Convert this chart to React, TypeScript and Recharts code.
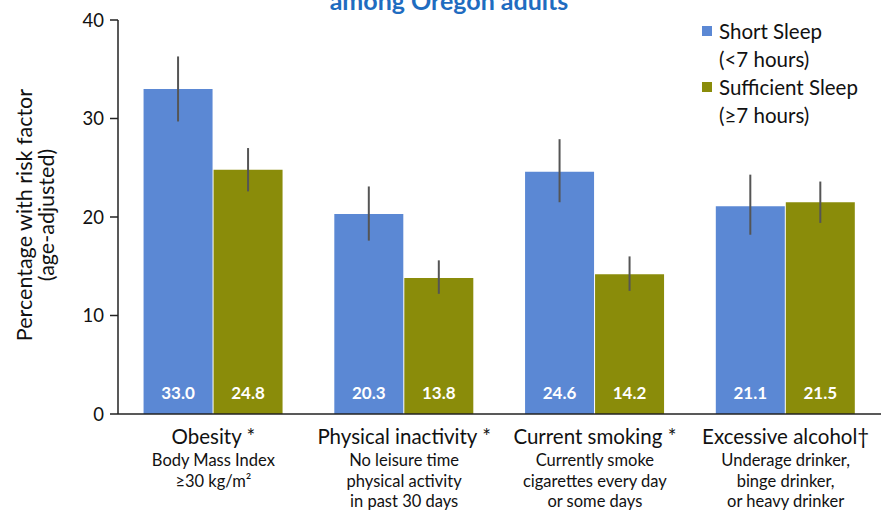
import React from 'react';
import { BarChart, Bar, XAxis, YAxis, ErrorBar, LabelList, Legend } from 'recharts';

const categories = ['Obesity *', 'Physical inactivity *', 'Current smoking *', 'Excessive alcohol†'];
const subLabels = [
  ['Body Mass Index', '≥30 kg/m²'],
  ['No leisure time', 'physical activity', 'in past 30 days'],
  ['Currently smoke', 'cigarettes every day', 'or some days'],
  ['Underage drinker,', 'binge drinker,', 'or heavy drinker'],
];
const shortSleep = [33.0, 20.3, 24.6, 21.1];
const shortLow = [29.7, 17.6, 21.5, 18.2];
const shortHigh = [36.3, 23.1, 27.9, 24.3];
const sufficientSleep = [24.8, 13.8, 14.2, 21.5];
const sufficientLow = [22.6, 12.2, 12.5, 19.4];
const sufficientHigh = [27.0, 15.6, 16.0, 23.6];
const yTicks = [0, 10, 20, 30, 40];

const BLUE = '#5B88D4';
const OLIVE = '#8A8C0A';
const FONT = 'Lato, "Open Sans", sans-serif';

const data = categories.map((name, i) => ({
  name,
  short: shortSleep[i],
  sufficient: sufficientSleep[i],
  shortErr: [shortSleep[i] - shortLow[i], shortHigh[i] - shortSleep[i]],
  sufficientErr: [sufficientSleep[i] - sufficientLow[i], sufficientHigh[i] - sufficientSleep[i]],
}));

const CategoryTick = (props: any) => {
  const { x, y, payload, index } = props;
  const subs = subLabels[index] || [];
  return (
    <g transform={`translate(${x},${y})`}>
      <text x={0} y={22} textAnchor="middle" fontSize={20.5} fill="#111" fontFamily={FONT}>
        {payload.value}
      </text>
      {subs.map((s, j) => (
        <text key={j} x={0} y={44 + j * 20.7} textAnchor="middle" fontSize={16.5} fill="#111" fontFamily={FONT}>
          {s}
        </text>
      ))}
    </g>
  );
};

const ValueLabel = (props: any) => {
  const { x, y, width, height, value } = props;
  return (
    <text
      x={x + width / 2}
      y={y + height - 15}
      textAnchor="middle"
      fontSize={17}
      fontWeight="bold"
      fill="#fff"
      fontFamily={FONT}
    >
      {value.toFixed(1)}
    </text>
  );
};

const SleepLegend = () => {
  const rows = [
    { color: BLUE, lines: ['Short Sleep', '(<7 hours)'] },
    { color: OLIVE, lines: ['Sufficient Sleep', '(≥7 hours)'] },
  ];
  return (
    <div style={{ fontFamily: FONT, fontSize: 20.5, color: '#111', lineHeight: '28px' }}>
      {rows.map((r, i) => (
        <div key={i} style={{ display: 'flex', alignItems: 'flex-start' }}>
          <span
            style={{ width: 10, height: 10, background: r.color, marginTop: 9, marginRight: 7, flex: 'none' }}
          />
          <div>
            {r.lines.map((l, j) => (
              <div key={j}>{l}</div>
            ))}
          </div>
        </div>
      ))}
    </div>
  );
};

export default function App() {
  return (
    <div style={{ position: 'absolute', left: 0, top: 0, width: 885, height: 512, background: '#fff' }}>
      <BarChart
        width={885}
        height={512}
        data={data}
        margin={{ top: 20, right: 4, bottom: 0, left: 58 }}
        barCategoryGap="13.4%"
        barGap={1}
      >
        <XAxis
          dataKey="name"
          height={98}
          tickLine={false}
          axisLine={{ stroke: '#222', strokeWidth: 1.5 }}
          tick={<CategoryTick />}
          interval={0}
        />
        <YAxis
          width={60}
          domain={[0, 40]}
          ticks={yTicks}
          tickLine={{ stroke: '#222', strokeWidth: 1.5 }}
          tickSize={8}
          axisLine={{ stroke: '#222', strokeWidth: 1.5 }}
          tick={{ fontSize: 18.5, fill: '#111', fontFamily: FONT }}
          tickMargin={6}
        />
        <Legend
          content={<SleepLegend />}
          layout="vertical"
          align="center"
          verticalAlign="middle"
          wrapperStyle={{ left: 702, top: 17, width: 183 }}
        />
        <Bar dataKey="short" name="Short Sleep" fill={BLUE} isAnimationActive={false}>
          <ErrorBar dataKey="shortErr" width={0} stroke="#555" strokeWidth={2} direction="y" />
          <LabelList dataKey="short" content={<ValueLabel />} />
        </Bar>
        <Bar dataKey="sufficient" name="Sufficient Sleep" fill={OLIVE} isAnimationActive={false}>
          <ErrorBar dataKey="sufficientErr" width={0} stroke="#555" strokeWidth={2} direction="y" />
          <LabelList dataKey="sufficient" content={<ValueLabel />} />
        </Bar>
      </BarChart>
      <div
        style={{
          position: 'absolute',
          left: 0,
          width: 898,
          top: -13,
          textAlign: 'center',
          fontFamily: FONT,
          fontWeight: 'bold',
          fontSize: 25,
          color: '#1F6CC0',
          lineHeight: '26px',
        }}
      >
        among Oregon adults
      </div>
      <svg style={{ position: 'absolute', left: 0, top: 0, pointerEvents: 'none' }} width={80} height={512}>
        <text
          transform="translate(32,215) rotate(-90)"
          textAnchor="middle"
          fontSize={21.5}
          fill="#111"
          fontFamily={FONT}
        >
          Percentage with risk factor
        </text>
        <text
          transform="translate(54,215) rotate(-90)"
          textAnchor="middle"
          fontSize={21.5}
          fill="#111"
          fontFamily={FONT}
        >
          (age-adjusted)
        </text>
      </svg>
    </div>
  );
}
